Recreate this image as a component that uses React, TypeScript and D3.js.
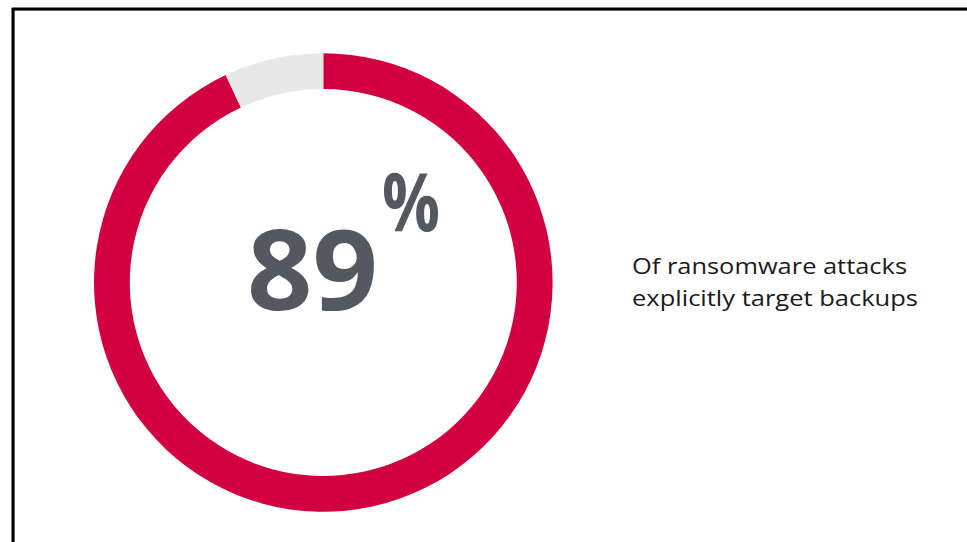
import React from "react";
import * as d3 from "d3";

const segments = ["Targeted", "Other"];
const values = [93, 7];
const colors = ["#D20040", "#E8E8E8"];
const headline = "89";
const unit = "%";
const captionLines = ["Of ransomware attacks", "explicitly target backups"];
const captionWidths = [275, 286];

export default function App() {
  const W = 967, H = 542;
  const cx = 323.3, cy = 282.5;
  const outerR = 229.3, innerR = 193.5;
  const pie = d3.pie<number>().sort(null).value((d) => d).startAngle(0).endAngle(2 * Math.PI);
  const arc = d3.arc<d3.PieArcDatum<number>>().innerRadius(innerR).outerRadius(outerR);
  const arcs = pie(values);
  return (
    <svg width={W} height={H} style={{ position: "fixed", left: 0, top: 0, background: "#fff" }}>
      <rect x={0} y={0} width={W} height={H} fill="#fff" />
      <line x1={14} y1={10.5} x2={W} y2={10.5} stroke="#d0d0d0" strokeWidth={1} />
      <line x1={14.5} y1={10} x2={14.5} y2={H} stroke="#d0d0d0" strokeWidth={1} />
      <line x1={12} y1={9} x2={W} y2={9} stroke="#000" strokeWidth={3} />
      <line x1={13} y1={8} x2={13} y2={H} stroke="#000" strokeWidth={3} />
      <g transform={`translate(${cx},${cy})`}>
        {arcs.map((a, i) => (
          <path key={segments[i]} d={arc(a) || ""} fill={colors[i]} />
        ))}
      </g>
      <text x={247} y={310} fontFamily="'Open Sans', 'Noto Sans', sans-serif" fontWeight={700} fontSize={112} fill="#545861" textLength={131} lengthAdjust="spacingAndGlyphs">
        {headline}
      </text>
      <text x={382} y={231} fontFamily="'Open Sans', 'Noto Sans', sans-serif" fontWeight={700} fontSize={80} fill="#545861" textLength={58} lengthAdjust="spacingAndGlyphs">
        {unit}
      </text>
      {captionLines.map((t, i) => (
        <text key={i} x={632} y={274 + i * 32} fontFamily="'Open Sans', 'Noto Sans', sans-serif" fontSize={22} fill="#1a1a1a" textLength={captionWidths[i]} lengthAdjust="spacingAndGlyphs">
          {t}
        </text>
      ))}
    </svg>
  );
}
